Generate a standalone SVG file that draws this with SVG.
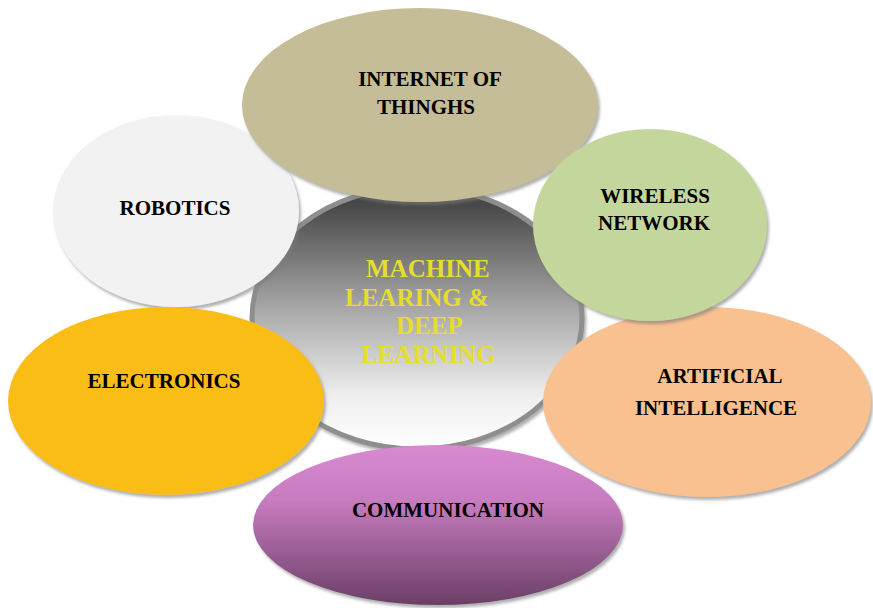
<svg xmlns="http://www.w3.org/2000/svg" width="873" height="608" viewBox="0 0 873 608">
  <defs>
    <linearGradient id="hubFill" x1="0" y1="0" x2="0" y2="1">
      <stop offset="0" stop-color="#383838"/>
      <stop offset="0.45" stop-color="#a4a4a4"/>
      <stop offset="0.8" stop-color="#efefef"/>
      <stop offset="1" stop-color="#ffffff"/>
    </linearGradient>
    <linearGradient id="commFill" x1="0" y1="0" x2="0" y2="1">
      <stop offset="0" stop-color="#d98ad1"/>
      <stop offset="0.35" stop-color="#c77bbf"/>
      <stop offset="1" stop-color="#6a3f66"/>
    </linearGradient>
    <filter id="shade" x="-10%" y="-10%" width="125%" height="125%">
      <feDropShadow dx="2" dy="3" stdDeviation="1.8" flood-color="#7a7a7a" flood-opacity="0.6"/>
    </filter>
  </defs>
  <style>
    .lbl { font-family: "Liberation Serif", "Times New Roman", serif; font-weight: bold; font-size: 21px; fill: #000; text-anchor: middle; }
    .hub { font-family: "Liberation Serif", "Times New Roman", serif; font-weight: bold; font-size: 25px; fill: #e6de2c; }
    .bubble { filter: url(#shade); }
  </style>
  <rect width="873" height="608" fill="#ffffff"/>

  <!-- central hub -->
  <g id="hub">
    <ellipse cx="417" cy="318" rx="165" ry="131" fill="url(#hubFill)" stroke="#8e8e8e" stroke-width="5" class="bubble"/>
    <text class="hub" x="366" y="277">MACHINE</text>
    <text class="hub" x="345" y="306">LEARING &amp;</text>
    <text class="hub" x="396" y="334">DEEP</text>
    <text class="hub" x="361" y="363">LEARNING</text>
  </g>

  <!-- surrounding topics -->
  <g id="robotics">
    <ellipse cx="176" cy="211" rx="123" ry="96" fill="#f2f2f2" class="bubble"/>
    <text class="lbl" x="175" y="215">ROBOTICS</text>
  </g>
  <g id="electronics">
    <ellipse cx="166" cy="401" rx="158" ry="94" fill="#f9bd19" class="bubble"/>
    <text class="lbl" x="164" y="388">ELECTRONICS</text>
  </g>
  <g id="communication">
    <ellipse cx="438" cy="525" rx="185" ry="80" fill="url(#commFill)" class="bubble"/>
    <text class="lbl" x="448" y="517">COMMUNICATION</text>
  </g>
  <g id="ai">
    <ellipse cx="707" cy="402" rx="164" ry="95" fill="#f9c090" class="bubble"/>
    <text class="lbl" x="720" y="383">ARTIFICIAL</text>
    <text class="lbl" x="716" y="415">INTELLIGENCE</text>
  </g>
  <g id="iot">
    <ellipse cx="420" cy="105" rx="178" ry="97" fill="#c4bd97" class="bubble"/>
    <text class="lbl" x="430" y="86">INTERNET OF</text>
    <text class="lbl" x="426" y="114">THINGHS</text>
  </g>
  <g id="wireless">
    <ellipse cx="650" cy="225" rx="117" ry="96" fill="#c3d69b" class="bubble"/>
    <text class="lbl" x="655" y="203">WIRELESS</text>
    <text class="lbl" x="654" y="230">NETWORK</text>
  </g>

  <g id="connectors"/>
</svg>
